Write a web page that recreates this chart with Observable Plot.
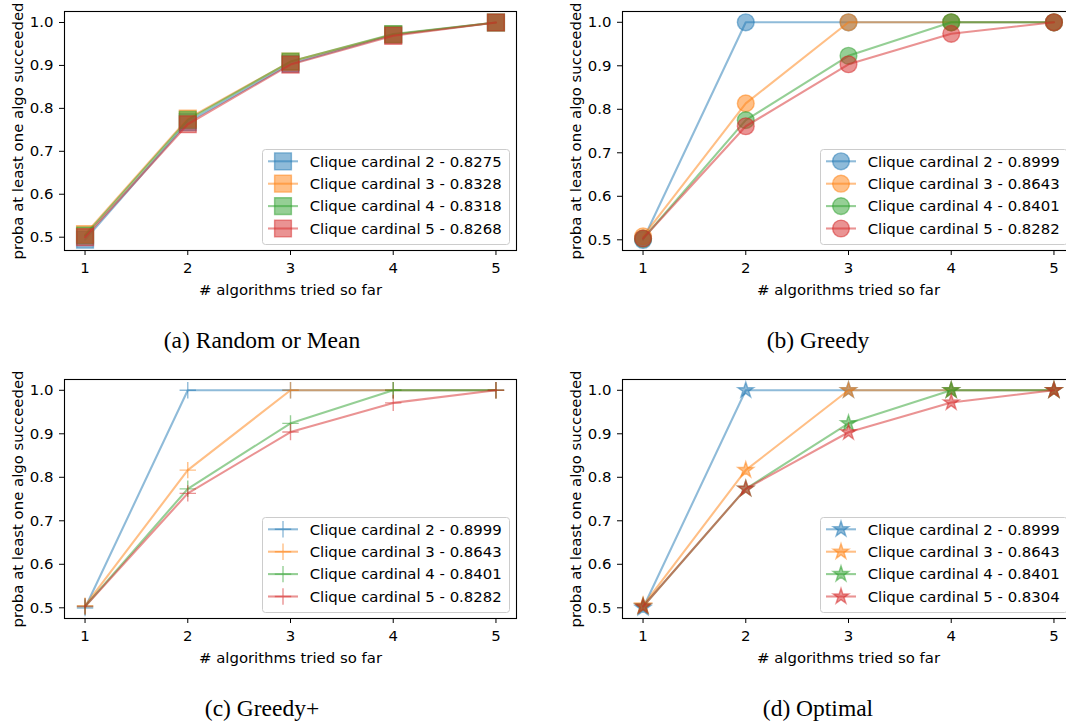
<!DOCTYPE html>
<html><head><meta charset="utf-8">
<script src="https://cdn.jsdelivr.net/npm/d3@7"></script>
<script src="https://cdn.jsdelivr.net/npm/@observablehq/plot@0.6"></script>
<style>
body{margin:0;background:#fff;}
#root{position:relative;width:1066px;height:725px;overflow:hidden;background:#fff;}
.panel{position:absolute;width:533px;height:368px;}
.caption{position:absolute;font-family:"Liberation Serif","Times New Roman",serif;font-size:23.5px;line-height:23.5px;width:400px;text-align:center;color:#000;white-space:nowrap;}
.legend{position:absolute;overflow:visible;}
</style></head><body><div id="root"></div>
<script>
// ---- data ----
const xValues = [1, 2, 3, 4, 5];
const seriesNames = ["Clique cardinal 2", "Clique cardinal 3", "Clique cardinal 4", "Clique cardinal 5"];
const seriesColors = ["#1f77b4", "#ff7f0e", "#2ca02c", "#d62728"];
const yTicks = [0.5, 0.6, 0.7, 0.8, 0.9, 1.0];
const xLabel = "# algorithms tried so far";
const yLabel = "proba at least one algo succeeded";
const captions = ["(a) Random or Mean", "(b) Greedy", "(c) Greedy+", "(d) Optimal"];

const randomC2 = [0.494, 0.768, 0.904, 0.9715, 1.0];
const randomC3 = [0.507, 0.776, 0.909, 0.972, 1.0];
const randomC4 = [0.504, 0.773, 0.909, 0.973, 1.0];
const randomC5 = [0.500, 0.763, 0.902, 0.969, 1.0];
const randomScores = [0.8275, 0.8328, 0.8318, 0.8268];

const greedyC2 = [0.4995, 1.0, 1.0, 1.0, 1.0];
const greedyC3 = [0.508, 0.8135, 1.0, 1.0, 1.0];
const greedyC4 = [0.5025, 0.775, 0.923, 1.0, 1.0];
const greedyC5 = [0.503, 0.761, 0.9035, 0.9735, 1.0];
const greedyScores = [0.8999, 0.8643, 0.8401, 0.8282];

const greedyPlusC2 = [0.4995, 1.0, 1.0, 1.0, 1.0];
const greedyPlusC3 = [0.505, 0.8165, 1.0, 1.0, 1.0];
const greedyPlusC4 = [0.503, 0.7735, 0.924, 1.0, 1.0];
const greedyPlusC5 = [0.503, 0.763, 0.904, 0.971, 1.0];
const greedyPlusScores = [0.8999, 0.8643, 0.8401, 0.8282];

const optimalC2 = [0.4995, 1.0, 1.0, 1.0, 1.0];
const optimalC3 = [0.505, 0.8165, 1.0, 1.0, 1.0];
const optimalC4 = [0.503, 0.7735, 0.924, 1.0, 1.0];
const optimalC5 = [0.503, 0.7735, 0.9035, 0.972, 1.0];
const optimalScores = [0.8999, 0.8643, 0.8401, 0.8304];

// ---- marker symbols (matplotlib-like) ----
const rOf = size => Math.sqrt(size / Math.PI);
const symSquare = {draw(ctx, size) { const r = rOf(size); ctx.rect(-r, -r, 2 * r, 2 * r); }};
const symCircle = {draw(ctx, size) { const r = rOf(size); ctx.moveTo(r, 0); ctx.arc(0, 0, r, 0, 2 * Math.PI); ctx.closePath(); }};
const symPlus = {draw(ctx, size) { const r = rOf(size); ctx.moveTo(-r, 0); ctx.lineTo(r, 0); ctx.moveTo(0, -r); ctx.lineTo(0, r); }};
const symStar = {draw(ctx, size) {
  const R = rOf(size), ri = R * 0.381966;
  for (let i = 0; i < 10; i++) {
    const a = -Math.PI / 2 + i * Math.PI / 5, rr = i % 2 ? ri : R;
    const x = rr * Math.cos(a), y = rr * Math.sin(a);
    if (i) ctx.lineTo(x, y); else ctx.moveTo(x, y);
  }
  ctx.closePath();
}};

const panels = [
  {series: [randomC2, randomC3, randomC4, randomC5], scores: randomScores, symbol: symSquare, r: 8.4, filled: true,
   left: 0, top: 0, yDomain: [0.469, 1.0256], capX: 262},
  {series: [greedyC2, greedyC3, greedyC4, greedyC5], scores: greedyScores, symbol: symCircle, r: 8.4, filled: true,
   left: 557.5, top: 0, yDomain: [0.4754, 1.0248], capX: 818 - 557.5},
  {series: [greedyPlusC2, greedyPlusC3, greedyPlusC4, greedyPlusC5], scores: greedyPlusScores, symbol: symPlus, r: 8.2, filled: false,
   left: 0, top: 368, yDomain: [0.4754, 1.0248], capX: 262},
  {series: [optimalC2, optimalC3, optimalC4, optimalC5], scores: optimalScores, symbol: symStar, r: 8.3, filled: true,
   left: 557.5, top: 368, yDomain: [0.4754, 1.0248], capX: 818 - 557.5}
];

const W = 533, H = 300, MT = 11, MB = 50, ML = 64, MR = 17;
const FS = "14.9px";
const root = document.getElementById("root");
const fmt4 = d3.format(".4f");

panels.forEach((p, k) => {
  const div = document.createElement("div");
  div.className = "panel";
  div.style.left = p.left + "px";
  div.style.top = p.top + "px";
  root.appendChild(div);

  const marks = [];
  p.series.forEach((vals, i) => {
    const rows = xValues.map((x, j) => ({x, y: vals[j], s: seriesNames[i]}));
    marks.push(Plot.line(rows, {x: "x", y: "y", stroke: "s", strokeOpacity: 0.5, strokeWidth: 2.08}));
    marks.push(Plot.dot(rows, {x: "x", y: "y", symbol: p.symbol, r: p.r,
      fill: p.filled ? "s" : "none", fillOpacity: 0.5,
      stroke: "s", strokeOpacity: 0.5, strokeWidth: 1.39}));
  });

  const chart = Plot.plot({
    width: W, height: H,
    marginLeft: ML, marginRight: MR, marginTop: MT, marginBottom: MB,
    style: {fontFamily: "DejaVu Sans", fontSize: FS, color: "#000", background: "transparent", overflow: "visible"},
    x: {domain: [0.8, 5.2]},
    y: {domain: p.yDomain},
    color: {domain: seriesNames, range: seriesColors},
    marks: [
      ...marks,
      Plot.axisX({ticks: xValues, tickFormat: d => String(d), tickSize: 5, tickPadding: 7,
        label: xLabel, labelAnchor: "center", labelOffset: 44, labelArrow: "none"}),
      Plot.axisY({ticks: yTicks, tickFormat: d3.format(".1f"), tickSize: 5, tickPadding: 6,
        label: yLabel, labelAnchor: "center", labelOffset: 52, labelArrow: "none"}),
      Plot.frame({stroke: "#000", strokeWidth: 1.1})
    ]
  });
  chart.style.position = "absolute";
  chart.style.left = "0px";
  chart.style.top = "0px";
  div.appendChild(chart);

  // legend (inside axes, lower right)
  const frameRight = W - MR, frameBottom = H - MB;
  const lh = 95;
  const lsvg = d3.create("svg").attr("class", "legend");
  div.appendChild(lsvg.node());
  const bg = lsvg.append("rect");
  const sym = d3.symbol().type(p.symbol).size(Math.PI * p.r * p.r);
  let maxLen = 0;
  seriesNames.forEach((name, i) => {
    const cy = 12.3 + 22.4 * i;
    const g = lsvg.append("g");
    g.append("line").attr("x1", 6).attr("x2", 36).attr("y1", cy).attr("y2", cy)
      .attr("stroke", seriesColors[i]).attr("stroke-opacity", 0.5).attr("stroke-width", 2.08);
    g.append("path").attr("d", sym()).attr("transform", `translate(21,${cy})`)
      .attr("fill", p.filled ? seriesColors[i] : "none").attr("fill-opacity", 0.5)
      .attr("stroke", seriesColors[i]).attr("stroke-opacity", 0.5).attr("stroke-width", 1.39);
    const t = g.append("text").attr("x", 47.7).attr("y", cy).attr("dy", "0.36em")
      .attr("font-family", "DejaVu Sans").attr("font-size", FS).attr("fill", "#000")
      .text(`${name} - ${fmt4(p.scores[i])}`);
    maxLen = Math.max(maxLen, t.node().getComputedTextLength());
  });
  const lw = Math.round(47.7 + maxLen + 7.3);
  bg.attr("x", 0.5).attr("y", 0.5).attr("width", lw).attr("height", lh)
    .attr("rx", 3).attr("fill", "#fff").attr("fill-opacity", 0.8).attr("stroke", "#cccccc").attr("stroke-width", 1);
  lsvg.attr("width", lw + 2).attr("height", lh + 2)
    .style("left", (frameRight - 7 - lw) + "px")
    .style("top", (frameBottom - 6 - lh) + "px");
  bg.lower();

  const cap = document.createElement("div");
  cap.className = "caption";
  cap.textContent = captions[k];
  cap.style.left = (p.capX - 200) + "px";
  cap.style.top = "329px";
  div.appendChild(cap);
});
</script></body></html>
